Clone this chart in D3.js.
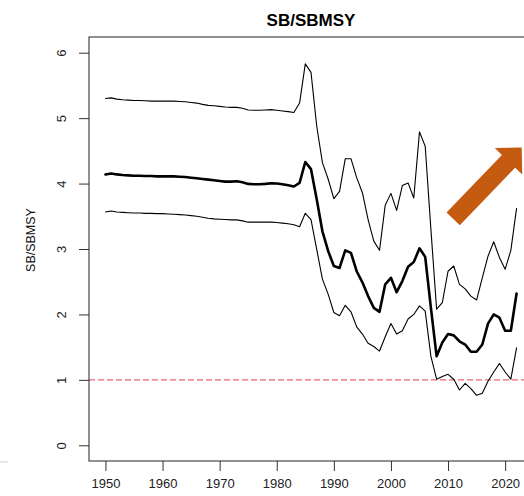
<!DOCTYPE html>
<html>
<head>
<meta charset="utf-8">
<script src="https://cdn.jsdelivr.net/npm/d3@7"></script>
<style>
  html, body { margin: 0; padding: 0; background: #fff; }
  svg { display: block; font-family: "Liberation Sans", Arial, Helvetica, sans-serif; }
</style>
</head>
<body>
<svg id="chart" width="524" height="496"></svg>
<script>
// Spawning biomass relative to SB at MSY: median and interval bounds, 1950-2022
const years = d3.range(1950, 2023);

const sbUpper = [
  5.30, 5.31, 5.29, 5.28, 5.275, 5.27, 5.27, 5.265, 5.26, 5.26,
  5.26, 5.26, 5.26, 5.255, 5.25, 5.24, 5.23, 5.21, 5.195, 5.19,
  5.18, 5.17, 5.165, 5.165, 5.15, 5.125, 5.12, 5.12, 5.125, 5.13,
  5.12, 5.11, 5.10, 5.085, 5.23, 5.83, 5.70, 4.88, 4.32, 4.07,
  3.77, 3.88, 4.38, 4.38, 4.09, 3.86, 3.45, 3.12, 2.98, 3.67,
  3.85, 3.59, 3.97, 4.01, 3.78, 4.79, 4.57, 3.30, 2.08, 2.18,
  2.66, 2.74, 2.46, 2.39, 2.28, 2.22, 2.56, 2.89, 3.11, 2.87,
  2.69, 2.98, 3.62
];

const sbMedian = [
  4.14, 4.155, 4.14, 4.13, 4.125, 4.12, 4.12, 4.115, 4.115, 4.11,
  4.11, 4.11, 4.11, 4.105, 4.10, 4.09, 4.08, 4.07, 4.06, 4.05,
  4.04, 4.03, 4.03, 4.035, 4.02, 3.995, 3.99, 3.99, 3.995, 4.005,
  4.00, 3.99, 3.975, 3.955, 4.01, 4.33, 4.22, 3.76, 3.27, 2.97,
  2.74, 2.71, 2.98, 2.94, 2.66, 2.49, 2.28, 2.10, 2.04, 2.46,
  2.56, 2.34, 2.51, 2.73, 2.80, 3.01, 2.88, 2.10, 1.36, 1.57,
  1.70, 1.68, 1.59, 1.54, 1.43, 1.43, 1.54, 1.86, 2.00, 1.95,
  1.75, 1.75, 2.32
];

const sbLower = [
  3.565, 3.58, 3.565, 3.56, 3.555, 3.55, 3.55, 3.545, 3.545, 3.54,
  3.54, 3.535, 3.53, 3.525, 3.52, 3.51, 3.50, 3.485, 3.47, 3.46,
  3.455, 3.45, 3.445, 3.445, 3.43, 3.41, 3.41, 3.41, 3.41, 3.41,
  3.405, 3.395, 3.385, 3.37, 3.34, 3.545, 3.45, 2.995, 2.54, 2.31,
  2.03, 1.98, 2.14, 2.04, 1.81, 1.70, 1.56, 1.51, 1.44, 1.66,
  1.86, 1.70, 1.75, 1.93, 2.00, 2.13, 2.05, 1.36, 1.01, 1.05,
  1.085, 1.01, 0.845, 0.947, 0.866, 0.764, 0.795, 0.98, 1.12, 1.25,
  1.12, 1.01, 1.49
];

const xTicks = [1950, 1960, 1970, 1980, 1990, 2000, 2010, 2020];
const yTicks = [0, 1, 2, 3, 4, 5, 6];
const refLevel = 1;              // SB = SBMSY
const trendFrom = [2010.9, 3.46]; // arrow tail (year, ratio)
const trendTo = [2022.9, 4.55];   // arrow tip (year, ratio)

const svg = d3.select("#chart");
const box = { left: 89, top: 37, right: 533, bottom: 461 };

// R-style 4% padding around the data range
const xPad = (2022 - 1950) * 0.04, yPad = 6 * 0.04;
const x = d3.scaleLinear().domain([1950 - xPad, 2022 + xPad]).range([box.left, box.right]);
const y = d3.scaleLinear().domain([0 - yPad, 6 + yPad]).range([box.bottom, box.top]);

// title
svg.append("text")
  .attr("x", (box.left + box.right) / 2).attr("y", 26)
  .attr("text-anchor", "middle")
  .attr("font-size", 17).attr("font-weight", "bold").attr("fill", "#000")
  .text("SB/SBMSY");

// y-axis title
svg.append("text")
  .attr("transform", "translate(35,240) rotate(-90)")
  .attr("text-anchor", "middle")
  .attr("font-size", 12.5).attr("fill", "#111")
  .text("SB/SBMSY");

// plotting region clip
svg.append("defs").append("clipPath").attr("id", "plotClip")
  .append("rect").attr("x", box.left).attr("y", box.top)
  .attr("width", box.right - box.left).attr("height", box.bottom - box.top);

const plot = svg.append("g").attr("clip-path", "url(#plotClip)");

// reference line at SB/SBMSY = 1
plot.append("line")
  .attr("x1", box.left).attr("x2", box.right)
  .attr("y1", y(refLevel)).attr("y2", y(refLevel))
  .attr("stroke", "#EC6378").attr("stroke-width", 1.2)
  .attr("stroke-dasharray", "6,3");

const line = d3.line().x((d, i) => x(years[i])).y(d => y(d));

[[sbUpper, 1.1], [sbLower, 1.1], [sbMedian, 2.6]].forEach(([vals, w]) => {
  plot.append("path")
    .datum(vals)
    .attr("d", line)
    .attr("fill", "none")
    .attr("stroke", "#000")
    .attr("stroke-width", w)
    .attr("stroke-linejoin", "round")
    .attr("stroke-linecap", "round");
});

// upward trend arrow
(function drawArrow() {
  const x0 = x(trendFrom[0]), y0 = y(trendFrom[1]);
  const x1 = x(trendTo[0]), y1 = y(trendTo[1]);
  const len = Math.hypot(x1 - x0, y1 - y0);
  const ux = (x1 - x0) / len, uy = (y1 - y0) / len;
  const nx = -uy, ny = ux;
  const shaft = 18.4, head = 38, headLen = 19;
  const bx = x1 - ux * headLen, by = y1 - uy * headLen;
  const pts = [
    [x0 + nx * shaft / 2, y0 + ny * shaft / 2],
    [bx + nx * shaft / 2, by + ny * shaft / 2],
    [bx + nx * head / 2, by + ny * head / 2],
    [x1, y1],
    [bx - nx * head / 2, by - ny * head / 2],
    [bx - nx * shaft / 2, by - ny * shaft / 2],
    [x0 - nx * shaft / 2, y0 - ny * shaft / 2]
  ];
  svg.append("path")
    .attr("d", "M" + pts.map(p => p.join(",")).join("L") + "Z")
    .attr("fill", "#C55A11");
})();

// axes
const yAxis = svg.append("g")
  .attr("transform", `translate(${box.left},0)`)
  .call(d3.axisLeft(y).tickValues(yTicks).tickSize(10).tickPadding(0).tickFormat(d3.format("d")));
yAxis.select(".domain").remove();
yAxis.selectAll(".tick line").attr("stroke", "#333");
yAxis.selectAll(".tick text")
  .attr("x", null).attr("dy", null)
  .attr("transform", "translate(-23,0) rotate(-90)")
  .attr("text-anchor", "middle")
  .attr("font-size", 13).attr("fill", "#222")
  .attr("font-family", "Liberation Sans, Arial, sans-serif");

const xAxis = svg.append("g")
  .attr("transform", `translate(0,${box.bottom})`)
  .call(d3.axisBottom(x).tickValues(xTicks).tickSize(10).tickPadding(8).tickFormat(d3.format("d")));
xAxis.select(".domain").remove();
xAxis.selectAll(".tick line").attr("stroke", "#333");
xAxis.selectAll(".tick text")
  .attr("font-size", 13).attr("fill", "#222")
  .attr("font-family", "Liberation Sans, Arial, sans-serif");

// plot frame
svg.append("rect")
  .attr("x", box.left).attr("y", box.top)
  .attr("width", box.right - box.left).attr("height", box.bottom - box.top)
  .attr("fill", "none").attr("stroke", "#222").attr("stroke-width", 1);

// faint rule at the lower left edge
svg.append("line")
  .attr("x1", 0).attr("x2", 8).attr("y1", 462).attr("y2", 462)
  .attr("stroke", "#d0d0d0").attr("stroke-width", 1);
</script>
</body>
</html>
